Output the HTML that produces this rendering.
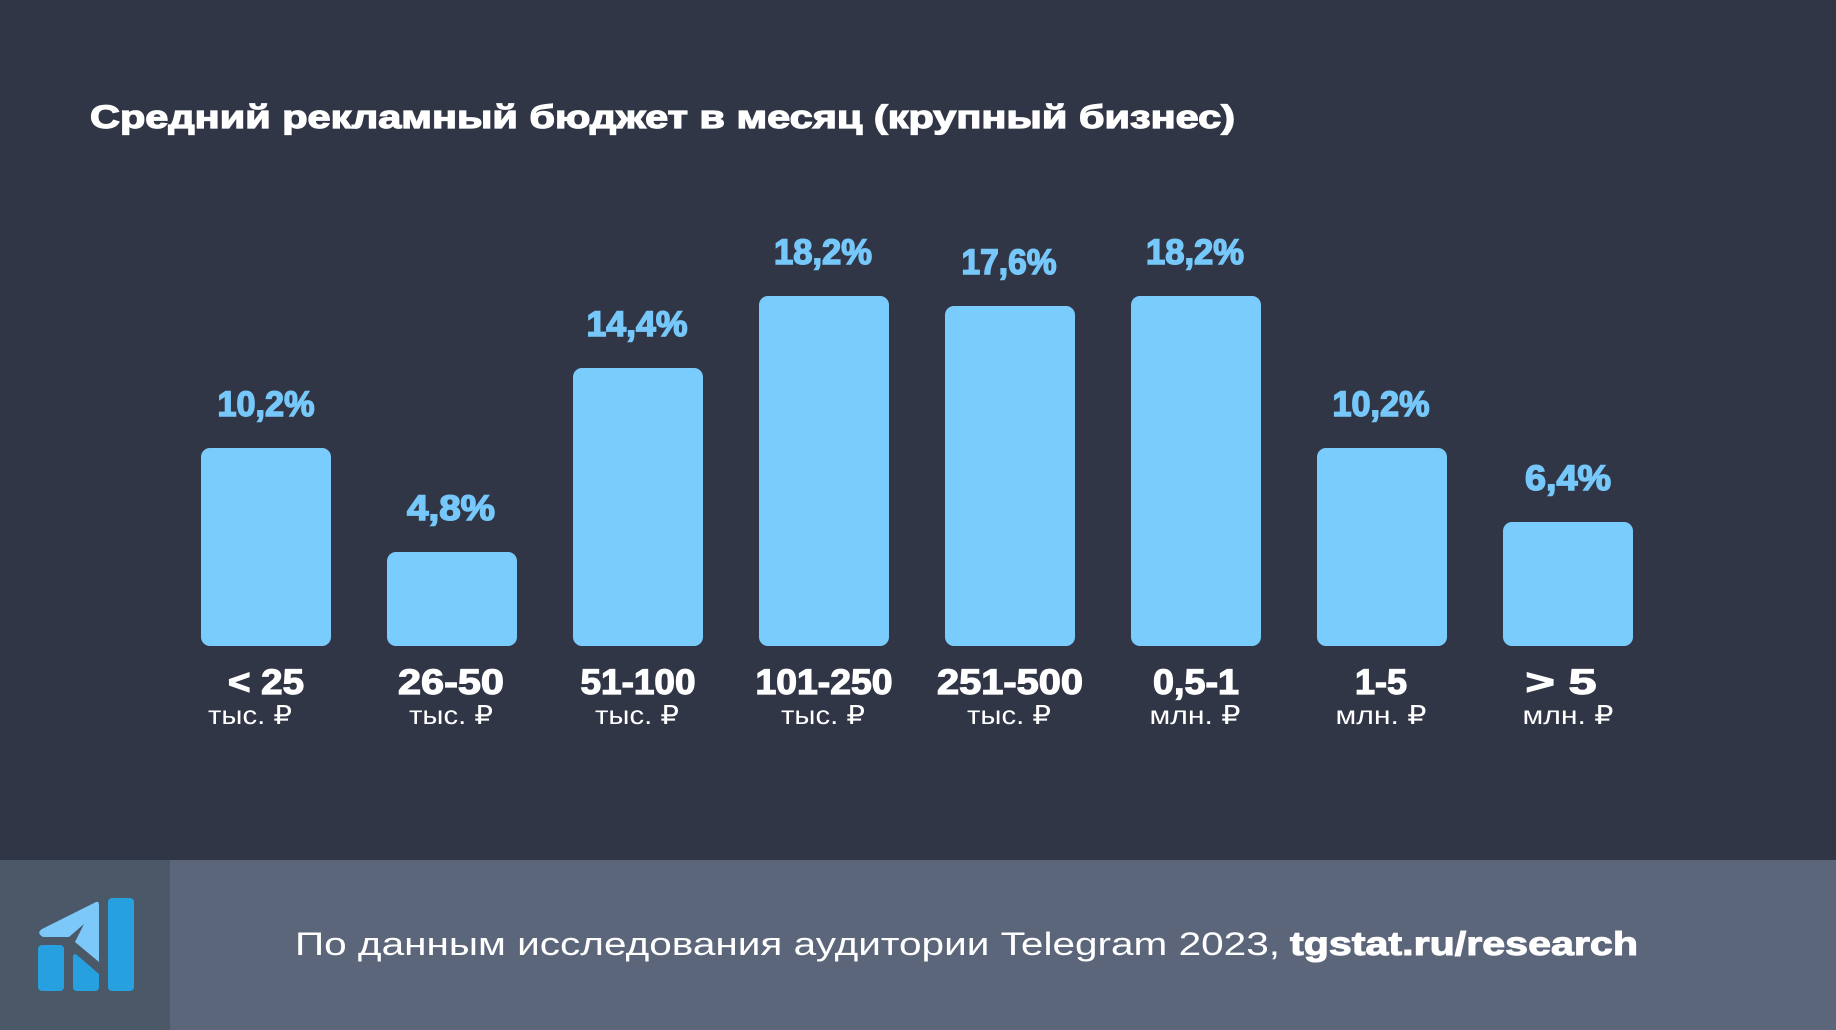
<!DOCTYPE html>
<html><head><meta charset="utf-8"><style>
html,body{margin:0;padding:0;background:#313646;}
svg{display:block;}
</style></head><body>
<svg width="1836" height="1030" viewBox="0 0 1836 1030" xmlns="http://www.w3.org/2000/svg" font-family="Liberation Sans, sans-serif">
<rect width="1836" height="1030" fill="#313646"/>
<rect x="0" y="860" width="1836" height="170" fill="#5c667b"/>
<rect x="0" y="860" width="170" height="170" fill="#4a5868"/>
<!-- logo -->
<rect x="38" y="945" width="26" height="46" rx="4" fill="#27a0e0"/>
<path d="M77 955 L99 974 L99 987 Q99 991 95 991 L77 991 Q73 991 73 987 L73 958 Q73 952 77 955 Z" fill="#27a0e0"/>
<rect x="108" y="898" width="26" height="93" rx="4" fill="#27a0e0"/>
<path d="M42 929 L96 902 Q99 901 99 905 L99 962 L75 942 L84 924 L69 937 L43 937 Q36 933 42 929 Z" fill="#7cc8f8"/>
<!-- title -->
<text x="90" y="128" font-size="32" font-weight="bold" fill="#ffffff" stroke="#ffffff" stroke-width="1.2" textLength="1145" lengthAdjust="spacingAndGlyphs">Средний рекламный бюджет в месяц (крупный бизнес)</text>
<!-- bars -->
<g fill="#7accfd">
<rect x="201" y="448" width="130" height="198" rx="9"/>
<rect x="387" y="552" width="130" height="94" rx="9"/>
<rect x="573" y="368" width="130" height="278" rx="9"/>
<rect x="759" y="296" width="130" height="350" rx="9"/>
<rect x="945" y="306" width="130" height="340" rx="9"/>
<rect x="1131" y="296" width="130" height="350" rx="9"/>
<rect x="1317" y="448" width="130" height="198" rx="9"/>
<rect x="1503" y="522" width="130" height="124" rx="9"/>
</g>
<g fill="#76c8fa" stroke="#76c8fa" stroke-width="1.5" font-size="35" font-weight="bold" text-anchor="middle">
<text x="266" y="416" textLength="97" lengthAdjust="spacingAndGlyphs">10,2%</text>
<text x="451" y="520" textLength="88" lengthAdjust="spacingAndGlyphs">4,8%</text>
<text x="637" y="336" textLength="101" lengthAdjust="spacingAndGlyphs">14,4%</text>
<text x="823" y="264" textLength="98" lengthAdjust="spacingAndGlyphs">18,2%</text>
<text x="1009" y="274" textLength="95" lengthAdjust="spacingAndGlyphs">17,6%</text>
<text x="1195" y="264" textLength="98" lengthAdjust="spacingAndGlyphs">18,2%</text>
<text x="1381" y="416" textLength="97" lengthAdjust="spacingAndGlyphs">10,2%</text>
<text x="1568" y="490" textLength="86" lengthAdjust="spacingAndGlyphs">6,4%</text>
</g>
<g fill="#ffffff" stroke="#ffffff" stroke-width="1.2" font-size="35" font-weight="bold" text-anchor="middle">
<text x="266" y="694" textLength="76" lengthAdjust="spacingAndGlyphs">&lt; 25</text>
<text x="451" y="694" textLength="106" lengthAdjust="spacingAndGlyphs">26-50</text>
<text x="638" y="694" textLength="115" lengthAdjust="spacingAndGlyphs">51-100</text>
<text x="824" y="694" textLength="137" lengthAdjust="spacingAndGlyphs">101-250</text>
<text x="1010" y="694" textLength="146" lengthAdjust="spacingAndGlyphs">251-500</text>
<text x="1196" y="694" textLength="86" lengthAdjust="spacingAndGlyphs">0,5-1</text>
<text x="1381" y="694" textLength="52" lengthAdjust="spacingAndGlyphs">1-5</text>
<text x="1561" y="694" textLength="71" lengthAdjust="spacingAndGlyphs">&gt; 5</text>
</g>
<g fill="#ffffff" font-size="26" text-anchor="middle">
<text x="250" y="724" textLength="84" lengthAdjust="spacingAndGlyphs">тыс. ₽</text>
<text x="451" y="724" textLength="84" lengthAdjust="spacingAndGlyphs">тыс. ₽</text>
<text x="637" y="724" textLength="84" lengthAdjust="spacingAndGlyphs">тыс. ₽</text>
<text x="823" y="724" textLength="84" lengthAdjust="spacingAndGlyphs">тыс. ₽</text>
<text x="1009" y="724" textLength="84" lengthAdjust="spacingAndGlyphs">тыс. ₽</text>
<text x="1195" y="724" textLength="91" lengthAdjust="spacingAndGlyphs">млн. ₽</text>
<text x="1381" y="724" textLength="91" lengthAdjust="spacingAndGlyphs">млн. ₽</text>
<text x="1568" y="724" textLength="91" lengthAdjust="spacingAndGlyphs">млн. ₽</text>
</g>
<text x="295" y="955" font-size="32" fill="#ffffff" textLength="985" lengthAdjust="spacingAndGlyphs">По данным исследования аудитории Telegram 2023,</text>
<text x="1290" y="955" font-size="33" font-weight="bold" fill="#ffffff" stroke="#ffffff" stroke-width="1" textLength="348" lengthAdjust="spacingAndGlyphs">tgstat.ru/research</text>
</svg>
</body></html>
